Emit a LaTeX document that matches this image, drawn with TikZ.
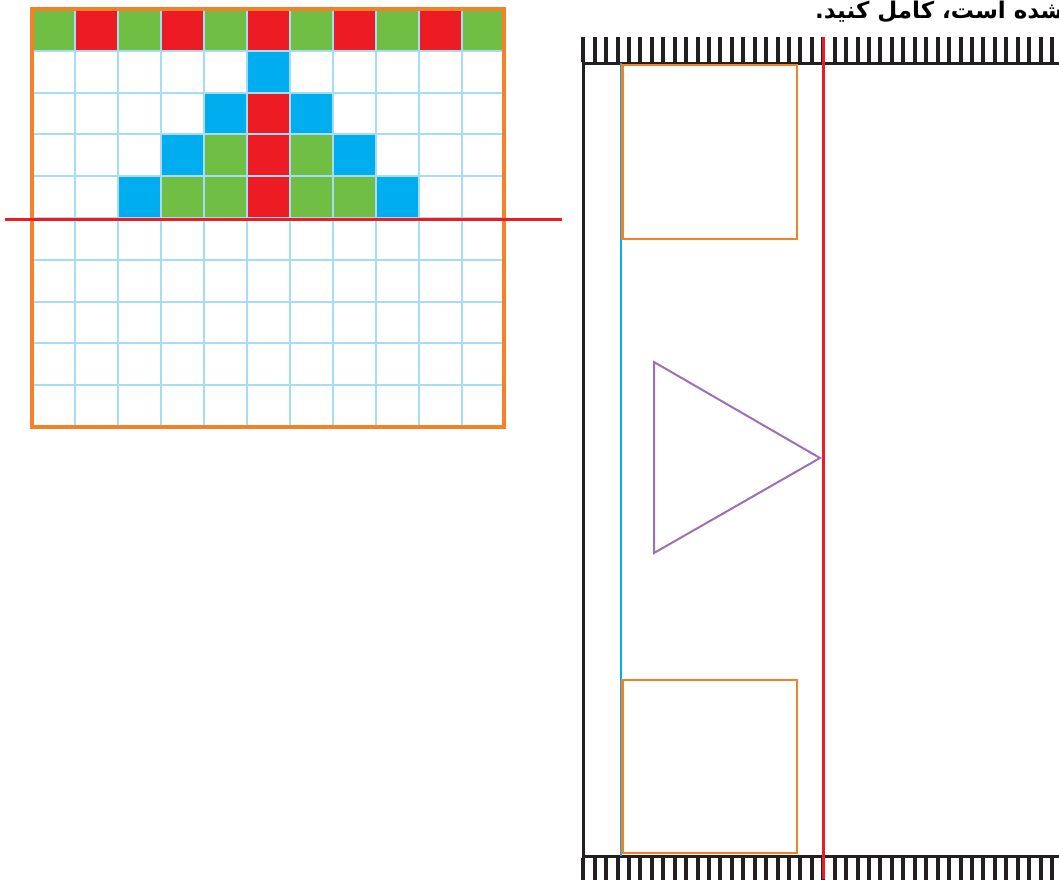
\documentclass[tikz,border=0pt]{standalone}
\usepackage{fontspec}
\newfontfamily\arabicfont[Script=Arabic]{DejaVu Sans}
\TeXXeTstate=1
\definecolor{cg}{HTML}{70BF44}
\definecolor{cr}{HTML}{ED1C24}
\definecolor{cb}{HTML}{00AEEF}
\definecolor{co}{HTML}{F58025}
\definecolor{cl}{HTML}{A6DDF6}
\definecolor{cp}{HTML}{9C6FB6}
\definecolor{ck}{HTML}{231F20}
\tikzset{
  gridline/.style={cl, line width=2},
  border/.style={co, line width=4},
  hatch/.style={ck, line width=4},
  wall/.style={ck, line width=3},
  mirror/.style={cr, line width=2.8},
  orbox/.style={co, line width=2.8},
  blueline/.style={cb, line width=2.5},
  tri/.style={cp, line width=2},
}
\begin{document}
\begin{tikzpicture}[x=1pt,y=-1pt]
\useasboundingbox (0,0) rectangle (1059,879);
\clip (0,0) rectangle (1059,879);
% --- left grid: coloured cells
\foreach \c/\r/\col in {0/0/cg,1/0/cr,2/0/cg,3/0/cr,4/0/cg,5/0/cr,6/0/cg,7/0/cr,8/0/cg,9/0/cr,10/0/cg,
  5/1/cb,
  4/2/cb,5/2/cr,6/2/cb,
  3/3/cb,4/3/cg,5/3/cr,6/3/cg,7/3/cb,
  2/4/cb,3/4/cg,4/4/cg,5/4/cr,6/4/cg,7/4/cg,8/4/cb}
  \fill[\col] ({32+43*\c},{9+41.8*\r}) rectangle ++(43,41.8);
% grid lines
\foreach \i in {1,...,10}
  \draw[gridline] ({32+43*\i},9) -- ++(0,418);
\foreach \j in {1,...,9}
  \draw[gridline] (32,{9+41.8*\j}) -- ++(473,0);
% border
\draw[border] (32,9) rectangle (504,427);
% red horizontal line
\draw[mirror] (5,219.5) -- (562,219.5);
% --- right part
\foreach \k in {0,...,42} {
  \draw[hatch] ({583.3+11.43*\k},37) -- ++(0,25);
  \draw[hatch] ({583.3+11.43*\k},858) -- ++(0,25);
}
\draw[wall] (583,63) -- (1065,63);
\draw[wall] (583,856.5) -- (1065,856.5);
\draw[wall] (583,62) -- (583,858);
\draw[blueline] (621,63) -- (621,856);
\draw[orbox] (622.5,65) rectangle (797,239);
\draw[orbox] (622.5,680) rectangle (797,853);
\draw[tri] (654,362) -- (654,553) -- (820,458) -- cycle;
\draw[mirror] (823.3,37) -- (823.3,879);
% title text (cut by the top edge, as in the reference)
\node[anchor=base west, inner sep=0, font=\arabicfont\bfseries\fontsize{23}{23}\selectfont] (title) at (815,18) {\beginR شده است، کامل کنید.\endR};
\end{tikzpicture}
\end{document}
